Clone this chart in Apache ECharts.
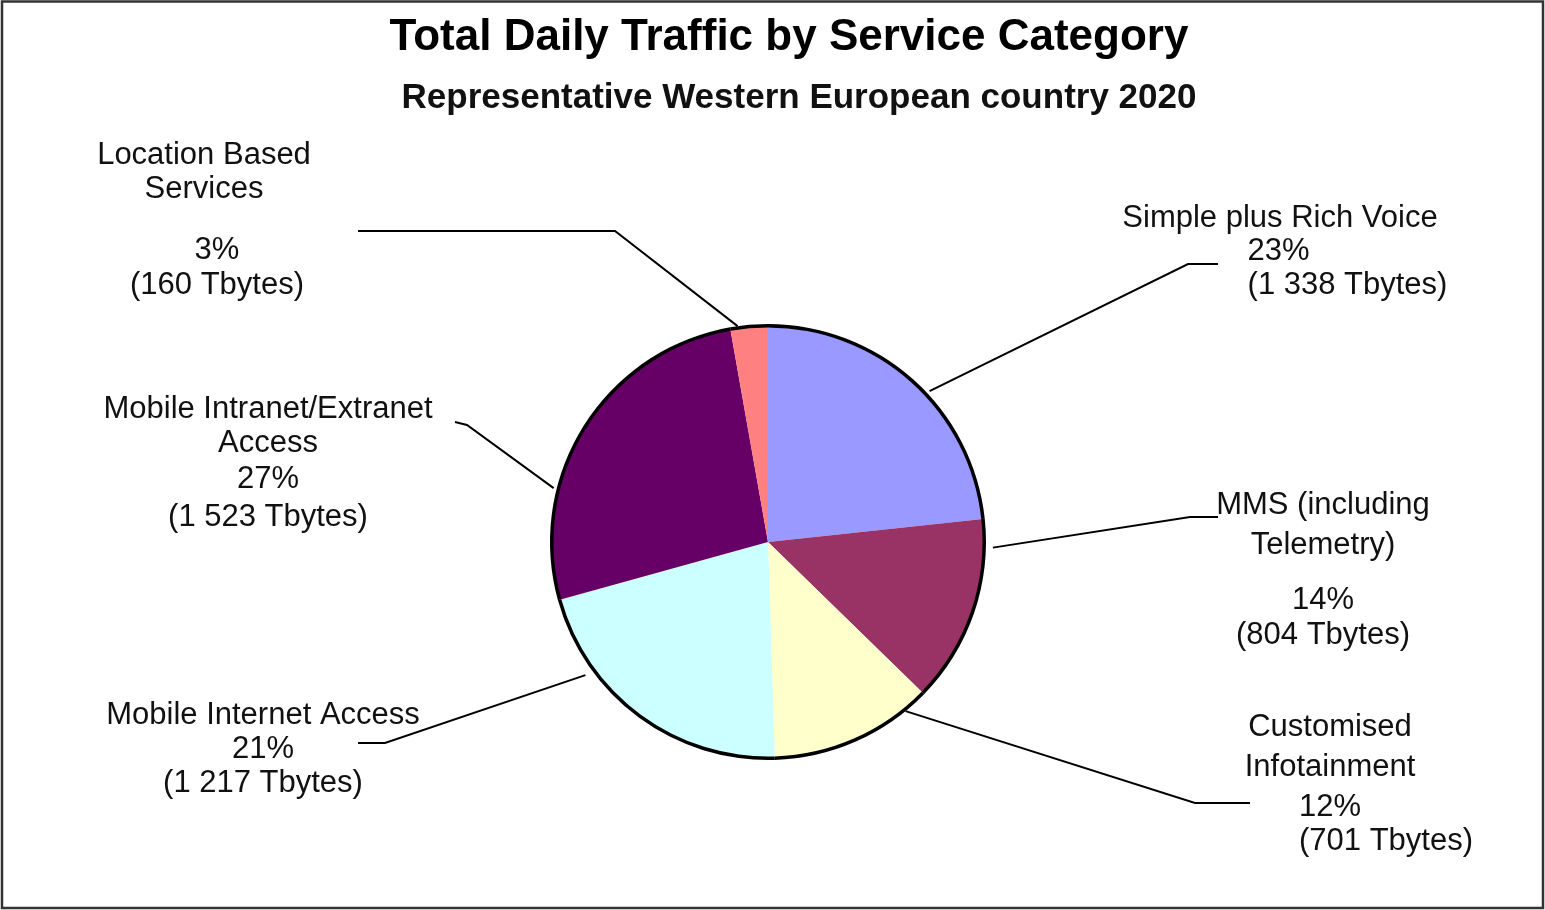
<!DOCTYPE html>
<html>
<head>
<meta charset="utf-8">
<script src="https://cdn.jsdelivr.net/npm/echarts@6/dist/echarts.min.js"></script>
<style>html,body{margin:0;padding:0;background:#fff}#c{width:1545px;height:910px}</style>
</head>
<body>
<div id="c"></div>
<script>
// ---- data ----
const titleText = 'Total Daily Traffic by Service Category';
const subtitleText = 'Representative Western European country 2020';
const categories = [
  'Simple plus Rich Voice',
  'MMS (including\nTelemetry)',
  'Customised\nInfotainment',
  'Mobile Internet Access',
  'Mobile Intranet/Extranet\nAccess',
  'Location Based\nServices'
];
const tbytes = [1338, 804, 701, 1217, 1523, 160];
const percents = [23, 14, 12, 21, 27, 3];
const unit = 'Tbytes';

// ---- styles / layout ----
const sliceColors = ['#9999FF', '#993366', '#FFFFCC', '#CCFFFF', '#660066', '#FF8080'];
const FONT = '"Liberation Sans", Arial, Helvetica, sans-serif';
const LS = 31;
const TXT = '#111';

// t = where along the slice's arc the leader line attaches (0 = slice start, 1 = slice end)
const labelLayouts = [
  { x: 1280, y: 202, t: 0.56, off: 5,  elbow: [1188, 264], end: [1218, 264], keys: ['n32', null, 'v0', 'v0'] },
  { x: 1323, y: 485, t: 0.15, off: 9,  elbow: [1190, 517], end: [1218, 517], keys: ['n40', 'g175', 'c35', 'c35'] },
  { x: 1330, y: 707, t: 0.15, off: 2,  elbow: [1195, 803], end: [1250, 803], keys: ['n40', null, 'i3', 'i4'] },
  { x: 263,  y: 699, t: 0.73, off: 10, elbow: [385, 743],  end: [358, 743],  keys: ['n33', null, 'c34', 'c34'] },
  { x: 268,  y: 392, t: 0.31, off: 5,  elbow: [467, 425],  end: [455, 422],  keys: ['n34', null, 'd38', 'd38'] },
  { x: 204,  y: 138, t: 0.20, off: 2,  elbow: [615, 231],  end: [358, 231],  keys: ['n34', 'g27', 'e35', 'e35'] }
];

function rs(o) {
  return Object.assign({ fontSize: LS, fontFamily: FONT, color: TXT, align: 'center' }, o);
}
const richStyles = {
  n32: rs({ lineHeight: 32 }),
  n33: rs({ lineHeight: 33 }),
  n34: rs({ lineHeight: 34 }),
  n40: rs({ lineHeight: 40 }),
  g175: rs({ fontSize: 1, lineHeight: 17.5 }),
  g27: rs({ fontSize: 1, lineHeight: 27 }),
  v0: rs({ align: 'left', padding: [0, 0, 0, 135], lineHeight: 34 }),
  c34: rs({ lineHeight: 34 }),
  c35: rs({ lineHeight: 35 }),
  i3: rs({ align: 'left', padding: [0, 0, 0, 112], lineHeight: 40 }),
  i4: rs({ align: 'left', padding: [0, 0, 0, 112], lineHeight: 28 }),
  d38: rs({ lineHeight: 38 }),
  e35: rs({ padding: [0, 0, 0, 26], lineHeight: 35 })
};

function fmtNum(n) {
  return String(n).replace(/\B(?=(\d{3})+(?!\d))/g, ' ');
}

const chart = echarts.init(document.getElementById('c'), null, { renderer: 'canvas' });

function labelFormatter(p) {
  const cfg = labelLayouts[p.dataIndex];
  const k = cfg.keys;
  const lines = categories[p.dataIndex].split('\n').map(t => '{' + k[0] + '|' + t + '}');
  if (k[1]) lines.push('{' + k[1] + '| }');
  lines.push('{' + k[2] + '|' + percents[p.dataIndex] + '%}');
  lines.push('{' + k[3] + '|(' + fmtNum(tbytes[p.dataIndex]) + ' ' + unit + ')}');
  return lines.join('\n');
}

function labelLayout(params) {
  const cfg = labelLayouts[params.dataIndex];
  let start = params.labelLinePoints ? params.labelLinePoints[0] : cfg.elbow;
  try {
    const lay = chart.getModel().getSeriesByIndex(0).getData().getItemLayout(params.dataIndex);
    const a = lay.startAngle + (lay.endAngle - lay.startAngle) * cfg.t;
    const r = lay.r + cfg.off;
    start = [lay.cx + r * Math.cos(a), lay.cy + r * Math.sin(a)];
  } catch (err) { /* fallback to default start */ }
  return {
    x: cfg.x,
    y: cfg.y,
    align: 'center',
    verticalAlign: 'top',
    labelLinePoints: [start, cfg.elbow.slice(), cfg.end.slice()]
  };
}

const option = {
  animation: false,
  backgroundColor: '#fff',
  textStyle: { fontFamily: FONT },
  graphic: [
    { type: 'rect', shape: { x: 2, y: 1.5, width: 1541, height: 906.5 },
      style: { fill: 'none', stroke: '#333', lineWidth: 2.5 }, silent: true, z: 100 },
    { type: 'text', x: 789, y: 38, silent: true,
      style: { text: titleText, fontSize: 44, fontWeight: 'bold', fontFamily: FONT, fill: '#000',
               align: 'center', verticalAlign: 'middle', textAlign: 'center', textVerticalAlign: 'middle' } },
    { type: 'text', x: 799, y: 98, silent: true,
      style: { text: subtitleText, fontSize: 35, fontWeight: 'bold', fontFamily: FONT, fill: '#111',
               align: 'center', verticalAlign: 'middle', textAlign: 'center', textVerticalAlign: 'middle' } }
  ],
  series: [
    {
      type: 'pie',
      center: [768, 542],
      radius: 216,
      startAngle: 90,
      clockwise: true,
      avoidLabelOverlap: false,
      minShowLabelAngle: 0,
      silent: true,
      emphasis: { disabled: true },
      itemStyle: { borderWidth: 0 },
      label: {
        show: true,
        position: 'outside',
        formatter: labelFormatter,
        fontSize: LS,
        fontFamily: FONT,
        color: TXT,
        rich: richStyles
      },
      labelLine: { show: true, length: 20, length2: 20, smooth: false,
                   lineStyle: { color: '#000', width: 2 } },
      labelLayout: labelLayout,
      data: tbytes.map((v, i) => ({ name: categories[i], value: v, itemStyle: { color: sliceColors[i] } }))
    },
    {
      type: 'pie',
      center: [768, 542],
      radius: [214.5, 218],
      startAngle: 90,
      silent: true,
      emphasis: { disabled: true },
      label: { show: false },
      labelLine: { show: false },
      itemStyle: { color: '#000', borderWidth: 0 },
      data: tbytes.map((v, i) => ({ name: categories[i], value: v }))
    }
  ]
};

chart.setOption(option);
</script>
</body>
</html>
